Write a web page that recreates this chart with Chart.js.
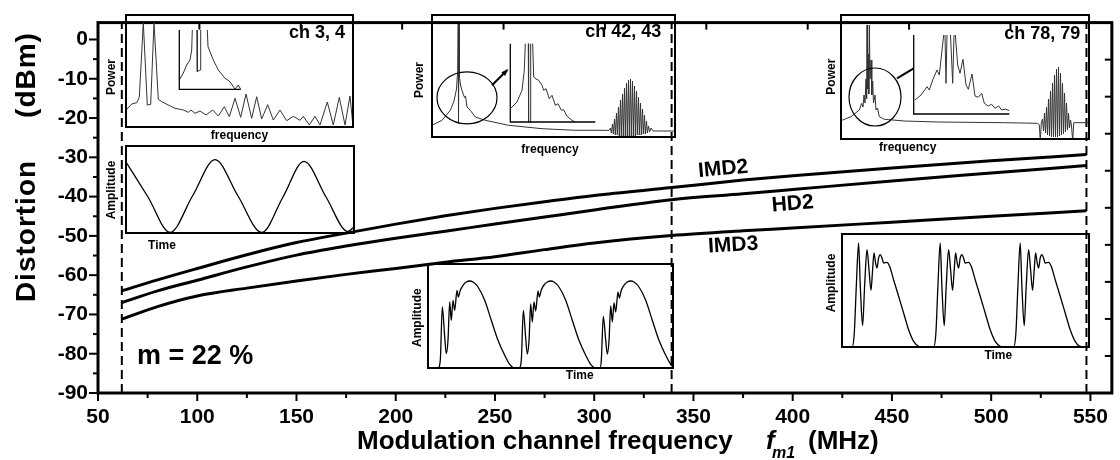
<!DOCTYPE html>
<html>
<head>
<meta charset="utf-8">
<script src="https://cdn.jsdelivr.net/npm/chart.js@4.4.0/dist/chart.umd.min.js"></script>
<style>
  html, body { margin: 0; padding: 0; background: #fff; }
  #wrap { position: relative; width: 1120px; height: 460px; overflow: hidden; }
  #wrap canvas { position: absolute; left: 0; top: 0; }
</style>
</head>
<body>
<div id="wrap"><canvas id="main" width="1120" height="460"></canvas></div>
<script>
// distortion vs. modulation frequency (dBm)
const freqMHz = [62, 80, 100, 125, 150, 175, 200, 225, 250, 275, 300, 339, 375, 400, 450, 500, 548]
const imd2 = [-64.0, -61.2, -58.3, -54.8, -51.7, -49.3, -47.0, -44.9, -43.0, -41.3, -39.7, -37.7, -35.8, -34.7, -32.7, -30.9, -29.3]
const hd2 = [-67.0, -64.0, -61.3, -57.9, -54.9, -52.6, -50.6, -48.8, -47.0, -45.2, -43.4, -40.8, -39.3, -38.2, -36.0, -34.0, -32.1]
const imd3 = [-71.2, -68.0, -65.3, -63.3, -61.5, -59.8, -58.3, -56.7, -55.3, -53.5, -51.8, -49.9, -48.7, -48.0, -46.5, -45.0, -43.6]

const xTicks = [50, 100, 150, 200, 250, 300, 350, 400, 450, 500, 550]
const yTicks = [-90, -80, -70, -60, -50, -40, -30, -20, -10, 0]
const channelMarks = [62, 339, 548]   // ch 3/4, ch 42/43, ch 78/79

const X_MIN = 50, X_MAX = 560.8, Y_MIN = -90, Y_MAX = 4.3
const FONT = '"Liberation Sans", Arial, sans-serif'

// ---- inset traces (box-local units, y up) ----
const ch34Spectrum = [[0.7,17.7],[5.7,23],[10.7,24.3],[13.3,29.7],[17.3,104.3],[21.3,22],[24.7,22.7],[28,104.3],[32.3,27.7],[35.7,25.3],[42.3,22],[49,18.7],[57.3,17],[62.3,14.7],[65,17],[69,13.7],[74,16],[80,12],[86.7,17],[92.3,11],[98.3,20.3],[103.3,10.3],[109,28.7],[114.7,9.7],[120,33],[125.7,8.7],[130.7,30.3],[135.7,8],[141.7,22.3],[147.3,7],[154,17],[160.7,6.3],[167.3,10.7],[174,6.7],[177.3,10.7],[183.3,2],[189,10.7],[194,2],[201.3,25],[207.3,2],[213.3,29.7],[219,2],[224,31],[226.7,3.7]]
const ch34ZoomAxes = [[53.3,97],[53.3,37.7],[114.7,37.7]]
const ch34Zoom = [[53.3,47],[57.3,54],[60.7,62],[64,67],[65.7,77],[66.3,97],[68,null],[71,97],[71.3,55.3],[74,57],[74.7,97],[78,null],[81.3,97],[82,80.3],[87.3,67],[92.3,57],[99,48.7],[104,45.3],[109,37.7],[112.3,42],[114.7,37.7]]

const sineWave = [[0,71],[22,36],[44,0.5],[66.5,37],[89,73.4],[112,37],[135.7,0.5],[157,36],[178,71.7],[200,36],[222,1.5],[228,6]]

const ch4243Spectrum = [[0,11.7],[10,16.7],[18.3,26.7],[22,36],[24.5,48],[25.7,66.7],[26.2,113],[26.5,13],[27,113],[27.5,60],[28.5,52],[30,46.7],[31.5,42],[32.7,39.3],[33.5,41],[35,30],[38.3,26.7],[43.3,20],[53.3,16.7],[76.7,11.7],[110,8.3],[143.3,6.7],[173.3,6.7],[177,6.5],[178.5,9],[179.3,4],[180.5,13],[181.3,3],[182.5,18],[183.3,2],[184.5,24],[185.3,2],[186.5,30],[187.3,1],[188.5,37],[189.3,1],[190.5,43],[191.3,1],[192.5,49],[193.3,1],[194.5,54],[195.3,1],[196.5,57],[197.3,1],[198.5,58],[199.3,1],[200.5,56],[201.3,1],[202.5,51],[203.3,1],[204.5,46],[205.3,2],[206.5,40],[207.3,2],[208.5,34],[209.3,2],[210.5,28],[211.3,3],[212.5,22],[213.3,3],[214.5,16],[215.3,4],[216.5,11],[217.5,5],[219,9],[221,6],[226.7,6],[243,6]]
const ch4243ZoomAxes = [[78.3,93.3],[78.3,15],[163.3,15]]
const ch4243Zoom = [[78.3,28.3],[85,35],[90,46.7],[92.3,66.7],[93.3,93.3],[94.5,null],[96.3,93.3],[96.6,15],[98.4,15],[98.7,93.3],[99.5,null],[100.7,93.3],[101.7,60],[104,58],[106.7,56.7],[110,51.7],[111.7,46.7],[114,48.3],[117.3,38.3],[120,41.7],[123.3,31.7],[126,33.3],[129.3,26.7],[131.7,27.3],[135,20.7],[140,16.7],[143,15]]

const ch7879Spectrum = [[0,18.3],[10,22.3],[18.3,29],[20.7,35.7],[22,32],[23,44],[24,36],[25,60],[25.6,40],[26,114],[26.6,50],[27.2,85],[27.8,45],[28.4,114],[29,60],[30,79],[30.8,44],[31.7,58],[32.5,36],[34,44],[35,29],[36.5,31],[38.3,22.3],[43.3,19.7],[63.3,18],[96.7,17],[163.3,16.3],[196.7,15.7],[198.3,14],[199.3,-2],[200.3,16],[201.5,20],[202.5,8],[203.5,26],[204.5,6],[205.5,32],[206.5,4],[207.5,40],[208.5,3],[209.5,48],[210.5,2],[211.5,56],[212.5,2],[213.5,64],[214.5,2],[215.5,70],[216.5,2],[217.5,72],[218.5,3],[219.5,66],[220.5,4],[221.5,56],[222.5,5],[223.5,46],[224.5,7],[225.5,36],[226.5,9],[227.5,26],[228.5,11],[229.5,19],[230.5,13],[231.7,-2],[232.7,16.3],[248,16.3]]
const ch7879ZoomAxes = [[72.7,104],[72.7,25],[168.3,25]]
const ch7879Zoom = [[74,39],[80,44],[86,52.3],[88.3,49],[91.7,59],[96,69],[98.3,64],[102.7,104],[103.3,null],[104,104],[105,55.7],[106,104],[108,null],[109.5,104],[111.7,55.7],[113,104],[113.6,null],[114.3,104],[116.7,74],[119,65.7],[122,79.7],[125,54],[127.3,49.7],[131,65],[134,43],[137.3,41.7],[140.7,45.7],[143.3,35.7],[147.3,33],[150.7,34.7],[154,30.7],[157.7,33],[160.7,29],[164.3,30],[168.3,28.3]]

const ch4243Time = [[0,0],[10,0],[12.3,7.7],[14.3,61],[16.7,31],[18.3,14.3],[20,27.7],[21.7,66],[23.3,47.7],[25,67.7],[26.7,57.7],[29,77.7],[30.3,71],[32.3,77.7],[35,82.7],[38.3,86],[41.7,87],[45,86],[50,81],[56.7,67.7],[63.3,47.7],[70,27.7],[76.7,12.7],[81.7,3.7],[86.7,0],[91,0],[93.3,7.7],[95.3,57.7],[97.7,30],[99.3,14],[101,27],[102.7,64],[104.3,46],[106,66],[107.7,57],[110,77],[111.3,71],[113.3,78],[116,83],[119.3,86],[122.7,87],[126,86],[131,81],[137.7,67.7],[144.3,47.7],[151,27.7],[157.7,12.7],[162.7,3.7],[167.7,0],[172,0],[173.3,7.7],[175.3,51.7],[177.7,28],[179.3,14],[181,27],[182.7,62],[184.3,46],[186,65],[187.7,56],[190,76],[191.3,70],[193.3,77.7],[196,82.7],[199.3,86],[202.7,87],[206,86],[211,81],[217.7,67.7],[224.3,47.7],[231,27.7],[237.7,12.7],[242.7,3.7],[245,1]]

const ch7879Time = [[0,0],[10,0],[12.3,14],[14.3,60.7],[16.6,104],[18.3,60.7],[20.6,21.3],[22.6,60.7],[25,97.3],[27,77.3],[29,56.7],[30.6,77.3],[32,94],[33.6,84],[35,79],[36.6,89],[38.3,92.3],[40,89],[41.6,84],[45,84.7],[47.6,80.7],[51.6,67.3],[56.6,50.7],[61.6,34],[66.6,17.3],[71.6,5.7],[76.6,0.7],[80,0],[91.6,0],[93.9,14],[95.9,60.7],[98.2,104],[99.9,60.7],[102.2,21.3],[104.2,60.7],[106.6,97.3],[108.6,77.3],[110.6,56.7],[112.2,77.3],[113.6,94],[115.2,84],[116.6,79],[118.2,89],[119.9,92.3],[121.6,89],[123.2,84],[126.6,84.7],[129.2,80.7],[133.2,67.3],[138.2,50.7],[143.2,34],[148.2,17.3],[153.2,5.7],[158.2,0.7],[161,0],[171.6,0],[173.9,14],[175.9,60.7],[178.2,104],[179.9,60.7],[182.2,21.3],[184.2,60.7],[186.6,97.3],[188.6,77.3],[190.6,56.7],[192.2,77.3],[193.6,94],[195.2,84],[196.6,79],[198.2,89],[199.9,92.3],[201.6,89],[203.2,84],[206.6,84.7],[209.2,80.7],[213.2,67.3],[218.2,50.7],[223.2,34],[228.2,17.3],[233.2,5.7],[238.2,0.7],[247,0]]

Chart.defaults.font.family = FONT
Chart.defaults.color = '#000'

const curve = vals => freqMHz.map((f, i) => ({ x: f, y: vals[i] }))
const solid = { borderColor: '#000', borderWidth: 3, pointRadius: 0, cubicInterpolationMode: 'monotone' }

const curveLabels = [
  { text: 'IMD2', x: 365, y: -33.0, rot: -0.09 },
  { text: 'HD2', x: 400, y: -41.9, rot: -0.08 },
  { text: 'IMD3', x: 370, y: -52.4, rot: -0.06 }
]

function line(ctx, x1, y1, x2, y2) {
  ctx.beginPath(); ctx.moveTo(x1, y1); ctx.lineTo(x2, y2); ctx.stroke()
}

const mainDecor = {
  id: 'mainDecor',
  afterDraw(chart) {
    const { ctx, chartArea: a, scales: { x, y } } = chart
    ctx.save()
    ctx.strokeStyle = '#000'
    ctx.fillStyle = '#000'

    // ticks: major + minor on bottom/left, mirror ticks on top/right
    ctx.lineWidth = 2
    for (let v = X_MIN; v <= 550; v += 25) {
      const px = x.getPixelForValue(v)
      line(ctx, px, a.bottom, px, a.bottom + (v % 50 === 0 ? 8 : 5))
    }
    for (let v = Y_MIN; v <= 0; v += 5) {
      const py = y.getPixelForValue(v)
      line(ctx, a.left, py, a.left - (v % 10 === 0 ? 9 : 5), py)
    }
    for (let k = 1; k < 10; k++) {
      const px = a.left + k * (a.right - a.left) / 10
      line(ctx, px, a.top, px, a.top + 7)
      const py = a.bottom - k * (a.bottom - a.top) / 10
      line(ctx, a.right, py, a.right - 7, py)
    }

    ctx.lineWidth = 3
    ctx.strokeRect(a.left, a.top, a.right - a.left, a.bottom - a.top)

    // curve names
    ctx.font = `bold 21px ${FONT}`
    ctx.textAlign = 'center'
    ctx.textBaseline = 'middle'
    curveLabels.forEach(l => {
      ctx.save()
      ctx.translate(x.getPixelForValue(l.x), y.getPixelForValue(l.y))
      ctx.rotate(l.rot)
      ctx.fillText(l.text, 0, 0)
      ctx.restore()
    })

    ctx.font = `bold 27px ${FONT}`
    ctx.textAlign = 'left'
    ctx.fillText('m = 22 %', 137, 357)

    // y axis title
    ctx.save()
    ctx.translate(35, 0)
    ctx.rotate(-Math.PI / 2)
    ctx.font = `bold 28px ${FONT}`
    ctx.letterSpacing = '1px'
    ctx.textBaseline = 'alphabetic'
    ctx.textAlign = 'center'
    ctx.fillText('Distortion', -231, 0)
    ctx.fillText('(dBm)', -75, 0)
    ctx.restore()

    // x axis title with italic subscripted symbol
    ctx.textAlign = 'left'
    ctx.textBaseline = 'alphabetic'
    ctx.font = `bold 26px ${FONT}`
    ctx.letterSpacing = '0px'
    ctx.fillText('Modulation channel frequency', 357, 449)
    ctx.font = `italic bold 26px ${FONT}`
    ctx.fillText('f', 766, 449)
    ctx.font = `italic bold 16px ${FONT}`
    ctx.fillText('m1', 772, 458)
    ctx.font = `bold 26px ${FONT}`
    ctx.fillText('(MHz)', 808, 449)
    ctx.restore()
  }
}

new Chart(document.getElementById('main'), {
  type: 'line',
  data: {
    datasets: [
      ...channelMarks.map(f => ({
        data: [{ x: f, y: Y_MIN }, { x: f, y: Y_MAX }],
        borderColor: '#000', borderWidth: 2, borderDash: [9, 5], pointRadius: 0
      })),
      { label: 'IMD2', data: curve(imd2), ...solid },
      { label: 'HD2', data: curve(hd2), ...solid },
      { label: 'IMD3', data: curve(imd3), ...solid }
    ]
  },
  options: {
    responsive: false,
    animation: false,
    layout: { padding: { top: 12, right: 3, left: 0, bottom: 0 } },
    plugins: { legend: { display: false }, tooltip: { enabled: false } },
    scales: {
      x: {
        type: 'linear', min: X_MIN, max: X_MAX,
        afterBuildTicks: s => { s.ticks = xTicks.map(v => ({ value: v })) },
        afterFit: s => { s.height = 67 },
        grid: { display: false, drawTicks: false },
        border: { display: false },
        ticks: { font: { size: 21, weight: 'bold' }, color: '#000', padding: 12, maxRotation: 0, autoSkip: false }
      },
      y: {
        min: Y_MIN, max: Y_MAX,
        afterBuildTicks: s => { s.ticks = yTicks.map(v => ({ value: v })) },
        afterFit: s => { s.width = 98 },
        grid: { display: false, drawTicks: false },
        border: { display: false },
        ticks: { font: { size: 21, weight: 'bold' }, color: '#000', padding: 10, autoSkip: false }
      }
    }
  },
  plugins: [mainDecor]
})

// ---- insets ----
const insets = [
  {
    box: [126, 15, 227, 112],
    title: { text: 'ch 3, 4', x: 219, y: 88.7 },
    series: [
      { pts: ch34Spectrum, color: '#333' },
      { pts: ch34ZoomAxes, width: 1.3, color: '#000' },
      { pts: ch34Zoom, color: '#333' }
    ],
    labels: [{ text: 'Power', x: -14, y: 62, rot: true }, { text: 'frequency', x: 113.5, y: 121 }]
  },
  {
    box: [126, 146, 228, 87],
    series: [{ pts: sineWave, color: '#000', smooth: true, width: 1.3 }],
    labels: [{ text: 'Amplitude', x: -14, y: 44, rot: true }, { text: 'Time', x: 36, y: 100 }]
  },
  {
    box: [432, 15, 243, 122],
    title: { text: 'ch 42, 43', x: 229.3, y: 100 },
    series: [
      { pts: ch4243Spectrum, color: '#333' },
      { pts: ch4243ZoomAxes, width: 1.3, color: '#000' },
      { pts: ch4243Zoom, color: '#333' }
    ],
    loop: { cx: 35, cy: 39.2, rx: 30, ry: 26 },
    pointer: { from: [60, 51.7], to: [75, 66.7], head: true },
    labels: [{ text: 'Power', x: -12, y: 65, rot: true }, { text: 'frequency', x: 118, y: 135 }]
  },
  {
    box: [841, 15, 248, 124],
    title: { text: 'ch 78, 79', x: 239.3, y: 99.7 },
    series: [
      { pts: ch7879Spectrum, color: '#333' },
      { pts: ch7879ZoomAxes, width: 1.3, color: '#000' },
      { pts: ch7879Zoom, color: '#333' }
    ],
    loop: { cx: 34, cy: 42, rx: 26, ry: 29 },
    pointer: { from: [56, 60.7], to: [72.7, 70.7], head: false },
    labels: [{ text: 'Power', x: -9.6, y: 61.7, rot: true }, { text: 'frequency', x: 66.7, y: 133 }]
  },
  {
    box: [428, 264, 245, 104],
    series: [{ pts: ch4243Time, color: '#000', smooth: true, width: 1.3 }],
    labels: [{ text: 'Amplitude', x: -10.3, y: 53.7, rot: true }, { text: 'Time', x: 151.7, y: 111.7 }]
  },
  {
    box: [842, 234, 247, 113],
    series: [{ pts: ch7879Time, color: '#000', smooth: true, width: 1.3 }],
    labels: [{ text: 'Amplitude', x: -10, y: 49, rot: true }, { text: 'Time', x: 156.3, y: 122 }]
  }
]

function insetDecor(spec) {
  return {
    id: 'insetDecor',
    afterDraw(chart) {
      const { ctx, chartArea: a, scales: { x, y } } = chart
      ctx.save()
      ctx.strokeStyle = '#000'
      ctx.fillStyle = '#000'

      if (spec.loop) {
        const l = spec.loop
        ctx.lineWidth = 1.2
        ctx.beginPath()
        ctx.ellipse(x.getPixelForValue(l.cx), y.getPixelForValue(l.cy), l.rx, l.ry, 0, 0, Math.PI * 2)
        ctx.stroke()
      }
      if (spec.pointer) {
        const p = spec.pointer
        const x1 = x.getPixelForValue(p.from[0]), y1 = y.getPixelForValue(p.from[1])
        const x2 = x.getPixelForValue(p.to[0]), y2 = y.getPixelForValue(p.to[1])
        ctx.lineWidth = 2
        line(ctx, x1, y1, x2, y2)
        if (p.head) {
          const ang = Math.atan2(y2 - y1, x2 - x1)
          ctx.beginPath()
          ctx.moveTo(x2 + 2 * Math.cos(ang), y2 + 2 * Math.sin(ang))
          ctx.lineTo(x2 - 6 * Math.cos(ang - 0.45), y2 - 6 * Math.sin(ang - 0.45))
          ctx.lineTo(x2 - 6 * Math.cos(ang + 0.45), y2 - 6 * Math.sin(ang + 0.45))
          ctx.closePath()
          ctx.fill()
        }
      }

      ctx.lineWidth = 2
      ctx.strokeRect(a.left, a.top, a.right - a.left, a.bottom - a.top)

      if (spec.title) {
        ctx.font = `bold 18px ${FONT}`
        ctx.textAlign = 'right'
        ctx.textBaseline = 'alphabetic'
        ctx.fillText(spec.title.text, x.getPixelForValue(spec.title.x), y.getPixelForValue(spec.title.y))
      }

      ctx.font = `bold 12px ${FONT}`
      ctx.textAlign = 'center'
      ctx.textBaseline = 'middle'
      spec.labels.forEach(l => {
        ctx.save()
        ctx.translate(a.left + l.x, a.top + l.y)
        if (l.rot) ctx.rotate(-Math.PI / 2)
        ctx.fillText(l.text, 0, 0)
        ctx.restore()
      })
      ctx.restore()
    }
  }
}

const wrap = document.getElementById('wrap')
insets.forEach(spec => {
  const [bx, by, bw, bh] = spec.box
  const m = { left: 22, right: 4, top: 4, bottom: 22 }
  const cv = document.createElement('canvas')
  cv.width = bw + m.left + m.right
  cv.height = bh + m.top + m.bottom
  cv.style.left = (bx - m.left) + 'px'
  cv.style.top = (by - m.top) + 'px'
  wrap.appendChild(cv)
  new Chart(cv, {
    type: 'line',
    data: {
      datasets: spec.series.map(s => ({
        data: s.pts.map(([px, py]) => ({ x: px, y: py })),
        borderColor: s.color,
        borderWidth: s.width || 1,
        pointRadius: 0,
        spanGaps: false,
        cubicInterpolationMode: s.smooth ? 'monotone' : 'default',
        tension: 0
      }))
    },
    options: {
      responsive: false,
      animation: false,
      layout: { padding: m },
      plugins: { legend: { display: false }, tooltip: { enabled: false } },
      scales: {
        x: { type: 'linear', display: false, min: 0, max: bw },
        y: { display: false, min: 0, max: bh }
      }
    },
    plugins: [insetDecor(spec)]
  })
})
</script>
</body>
</html>
